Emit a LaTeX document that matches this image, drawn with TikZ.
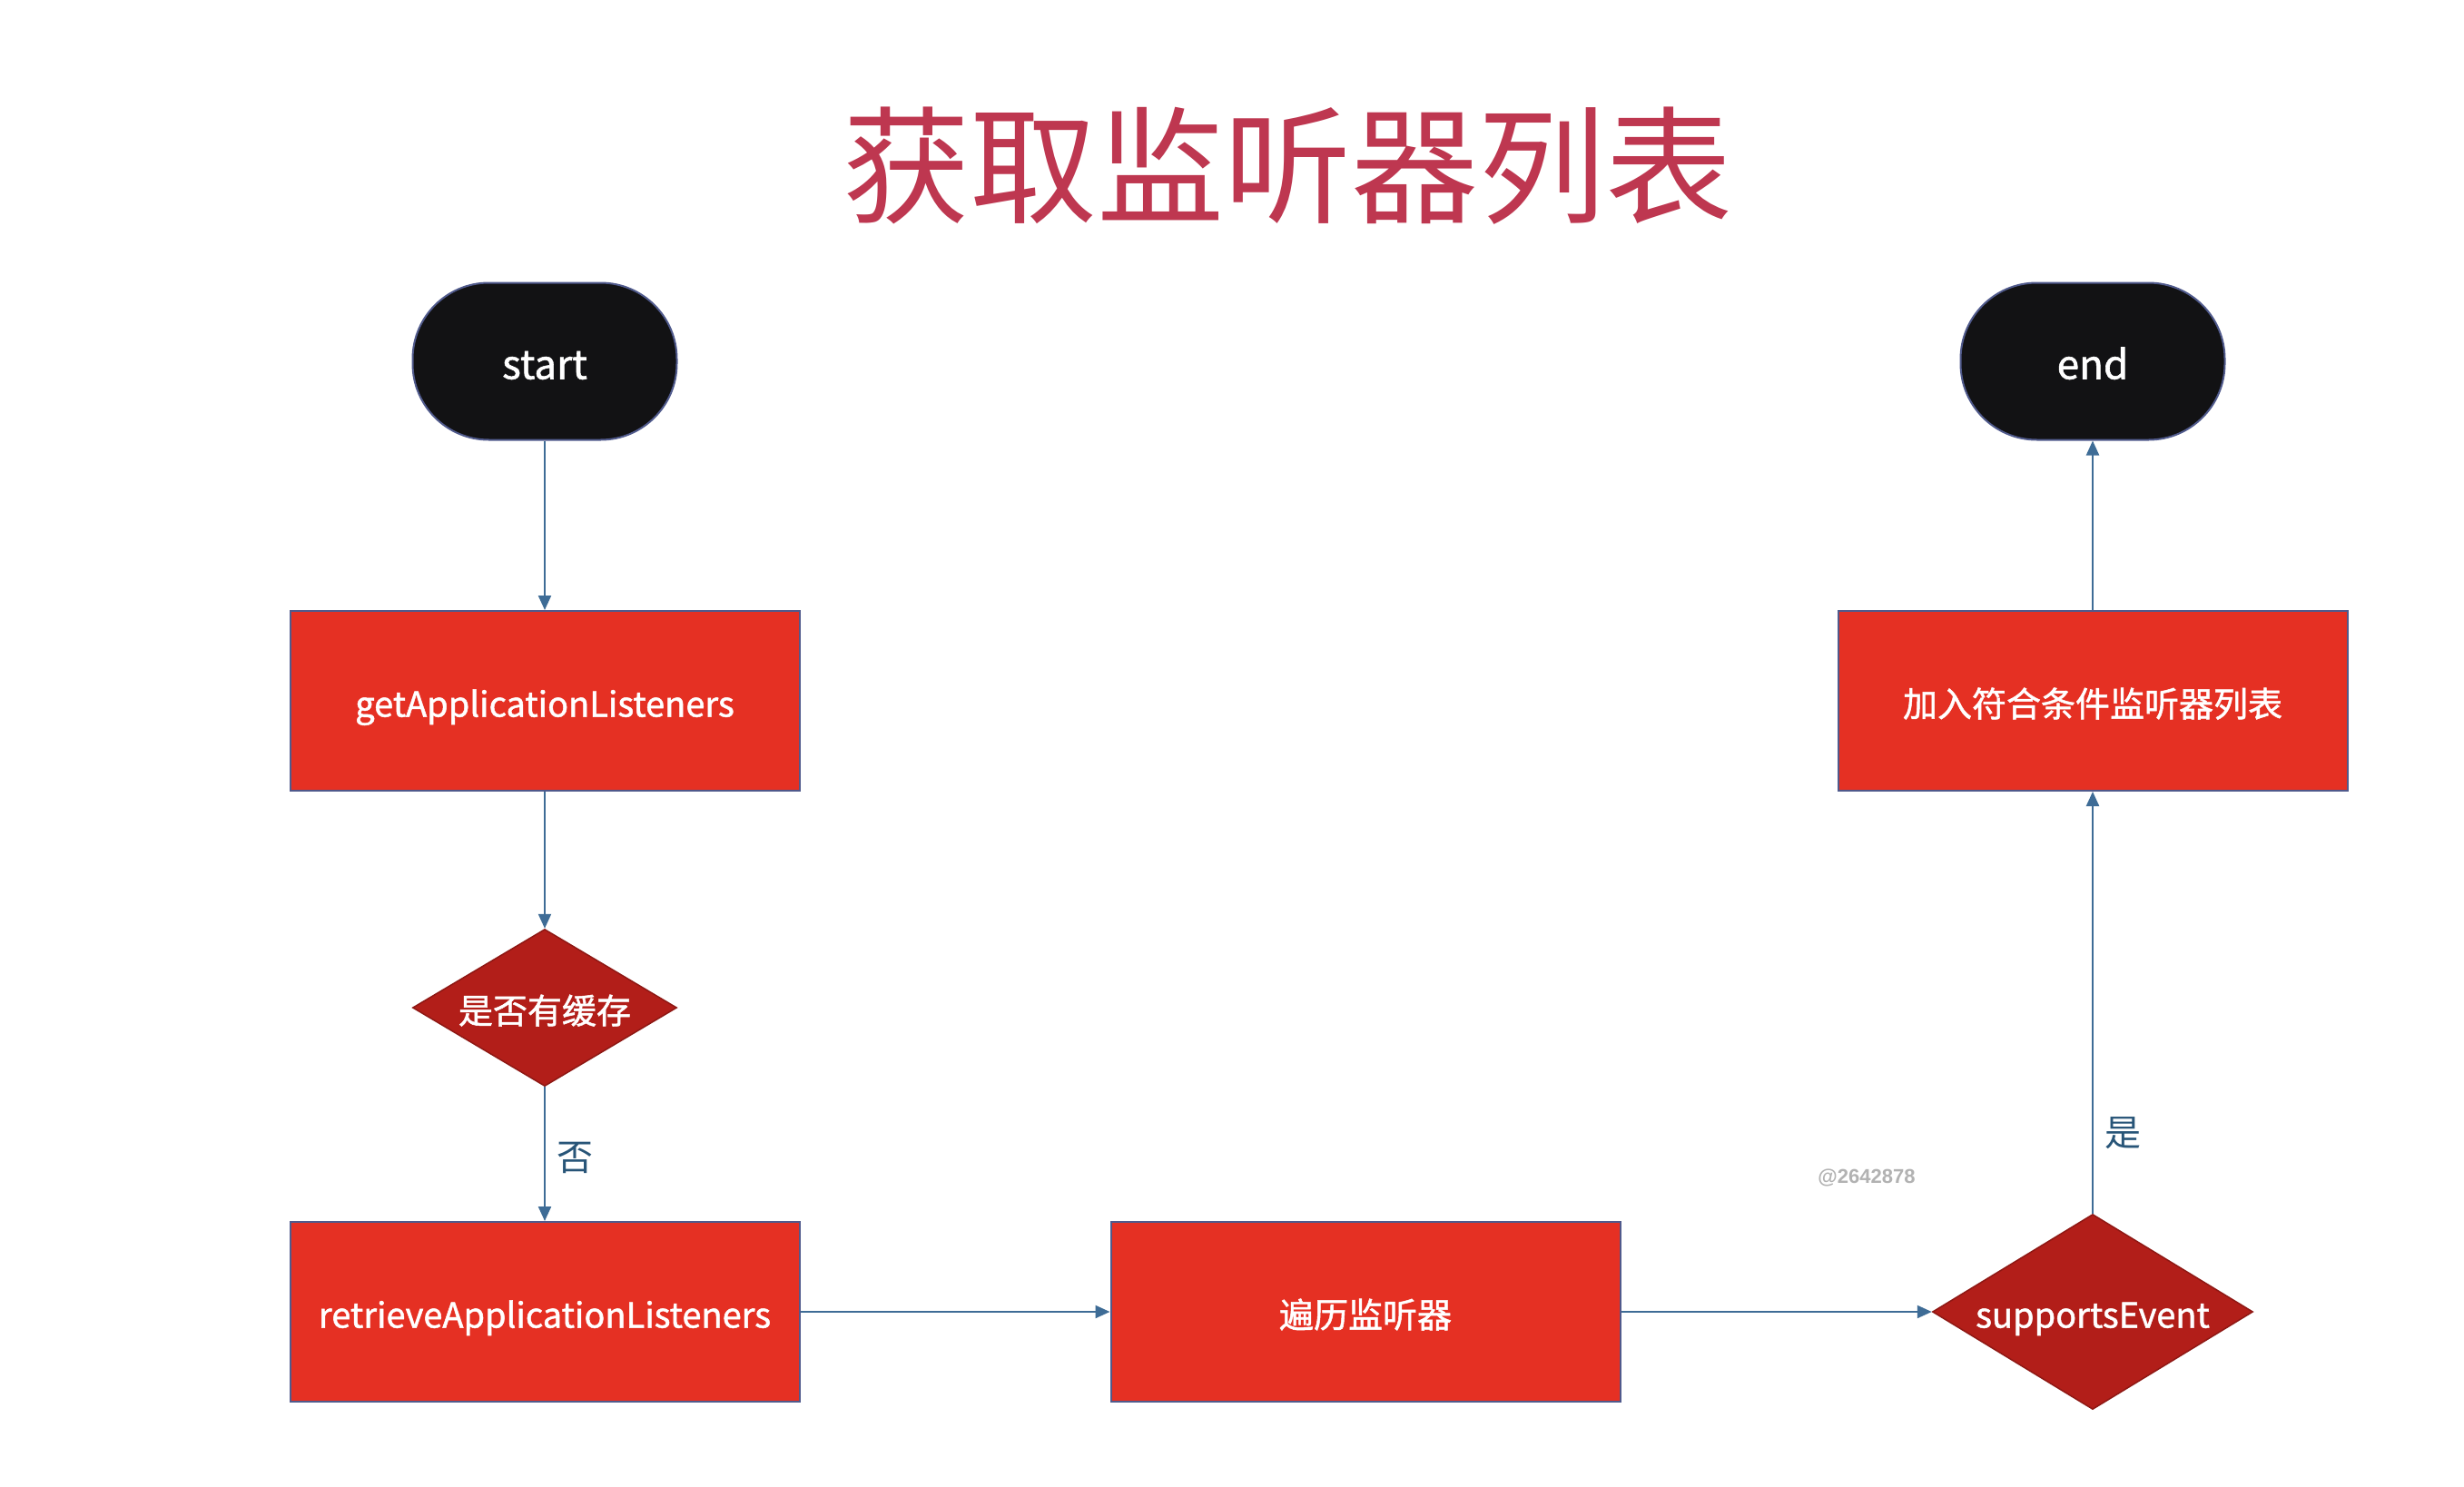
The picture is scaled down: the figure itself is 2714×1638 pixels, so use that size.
\documentclass[tikz,border=0pt]{standalone}
\usepackage{fontspec}
\setmainfont{Noto Sans CJK SC}
\newfontfamily\nodefont[FakeBold=1.3]{Noto Sans CJK SC}
\newfontfamily\wmfont{Liberation Sans}
\usetikzlibrary{shapes.geometric,arrows.meta}
\definecolor{boxred}{RGB}{229,48,35}
\definecolor{diared}{RGB}{178,30,25}
\definecolor{edgeblue}{RGB}{62,108,150}
\definecolor{rimblue}{RGB}{80,90,140}
\definecolor{titlered}{RGB}{190,55,80}
\definecolor{labblue}{RGB}{40,85,120}
\definecolor{termblack}{RGB}{18,18,20}
\tikzset{
  procbox/.style={rectangle, draw=rimblue, line width=2pt, fill=boxred, text=white,
    minimum width=561pt, minimum height=198pt, inner sep=0pt, text height=36pt, text depth=1pt,
    font=\nodefont\fontsize{38}{44}\selectfont},
  decide/.style={diamond, draw=diared!80!black, line width=1.5pt, fill=diared, text=white,
    inner sep=0pt, text height=36pt, text depth=1pt, font=\nodefont\fontsize{38}{44}\selectfont},
  terminal/.style={rectangle, rounded corners=84pt, draw=rimblue, line width=2pt, fill=termblack,
    text=white, minimum width=291pt, minimum height=173pt, inner sep=0pt, text height=40pt, text depth=1pt,
    font=\nodefont\fontsize{44}{50}\selectfont},
  flow/.style={draw=edgeblue, line width=2.2pt, -{Triangle[length=16pt,width=14pt]}},
  edgelabel/.style={text=labblue, font=\fontsize{40}{46}\selectfont, anchor=west, inner sep=0pt}
}
\begin{document}
\begin{tikzpicture}[x=1pt,y=-1pt]
\useasboundingbox[fill=white] (0,0) rectangle (2714,1638);
\node[text=titlered, font=\fontsize{140}{160}\selectfont, inner sep=0pt] (title) at (1418,183) {获取监听器列表};
\node[terminal] (start) at (600,398) {start};
\node[terminal] (end) at (2305,398) {end};
\node[procbox] (get) at (600,772) {getApplicationListeners};
\node[procbox] (add) at (2305,772) {加入符合条件监听器列表};
\node[decide, minimum width=291pt, minimum height=173pt, aspect=1.68] (cache) at (600,1110) {是否有缓存};
\node[procbox] (retrieve) at (600,1445) {retrieveApplicationListeners};
\node[procbox] (iter) at (1504,1445) {遍历监听器};
\node[decide, minimum width=353pt, minimum height=215pt, aspect=1.64] (supports) at (2305,1445) {supportsEvent};
\node[text=black!30, font=\wmfont\bfseries\fontsize{22}{26}\selectfont, inner sep=0pt] (wm) at (2056,1297) {@2642878};
\draw[flow] (start) -- (get);
\draw[flow] (get) -- (cache);
\draw[flow] (cache) -- node[edgelabel, pos=0.53, xshift=12pt] (no) {否} (retrieve);
\draw[flow] (retrieve) -- (iter);
\draw[flow] (iter) -- (supports);
\draw[flow] (supports) -- node[edgelabel, pos=0.19, xshift=12pt] (yes) {是} (add);
\draw[flow] (add) -- (end);
\end{tikzpicture}
\end{document}
